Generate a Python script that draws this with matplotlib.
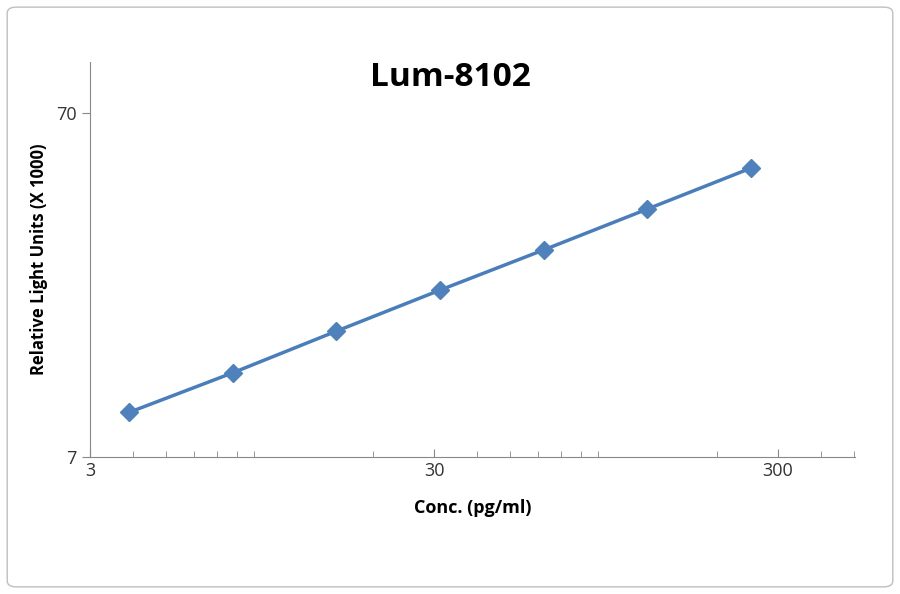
import matplotlib
matplotlib.use("Agg")
import matplotlib.pyplot as plt
from matplotlib.ticker import FixedLocator, NullFormatter, LogLocator
from matplotlib.patches import FancyBboxPatch

conc = [3.9, 7.8, 15.6, 31.25, 62.5, 125, 250]
rlu = [9.44, 12.3, 16.25, 21.4, 28.0, 36.8, 48.4]
xticks = [3, 30, 300]
yticks = [7, 70]

plt.rcParams['font.family'] = ['Open Sans', 'DejaVu Sans']
fig = plt.figure(figsize=(9, 5.94), dpi=100)
fig.patches.append(FancyBboxPatch((0.008, 0.012), 0.984, 0.976, boxstyle="round,pad=0,rounding_size=0.01",
                                  transform=fig.transFigure, fill=False, edgecolor='#bfbfbf', lw=1))
ax = fig.add_axes([90/900, 1-457/594, 765/900, 395/594])
ax.plot(conc, rlu, color='#4a7ebb', lw=2.5, marker='D', markersize=9, markerfacecolor='#4f81bd', markeredgecolor='#4f81bd')
ax.set_xscale('log'); ax.set_yscale('log')
ax.set_xlim(3, 502); ax.set_ylim(7, 98.5)
ax.xaxis.set_major_locator(FixedLocator(xticks))
ax.xaxis.set_minor_locator(LogLocator(base=10, subs=range(2, 10)))
ax.xaxis.set_minor_formatter(NullFormatter())
ax.yaxis.set_major_locator(FixedLocator(yticks))
ax.yaxis.set_minor_locator(FixedLocator([]))
ax.yaxis.set_minor_formatter(NullFormatter())
ax.set_xticklabels([str(t) for t in xticks], fontsize=13)
ax.set_yticklabels([str(t) for t in yticks], fontsize=13)
for s in ['top', 'right']:
    ax.spines[s].set_visible(False)
for s in ['left', 'bottom']:
    ax.spines[s].set_color('#888888')
ax.tick_params(which='major', direction='out', length=6, color='#888888', colors='#333333')
ax.tick_params(which='minor', direction='out', length=4, color='#888888')
ax.tick_params(axis='x', which='both', direction='in')
ax.tick_params(axis='x', which='major', length=6)
ax.set_xlabel('Conc. (pg/ml)', fontsize=13, fontweight='bold', labelpad=14)
ax.set_ylabel('Relative Light Units (X 1000)', fontsize=12, fontweight='bold', labelpad=6)
fig.text(450/900, 1-78/594, 'Lum-8102', ha='center', va='center', fontsize=24, fontweight='bold')
fig.savefig('out.png', dpi=100)
